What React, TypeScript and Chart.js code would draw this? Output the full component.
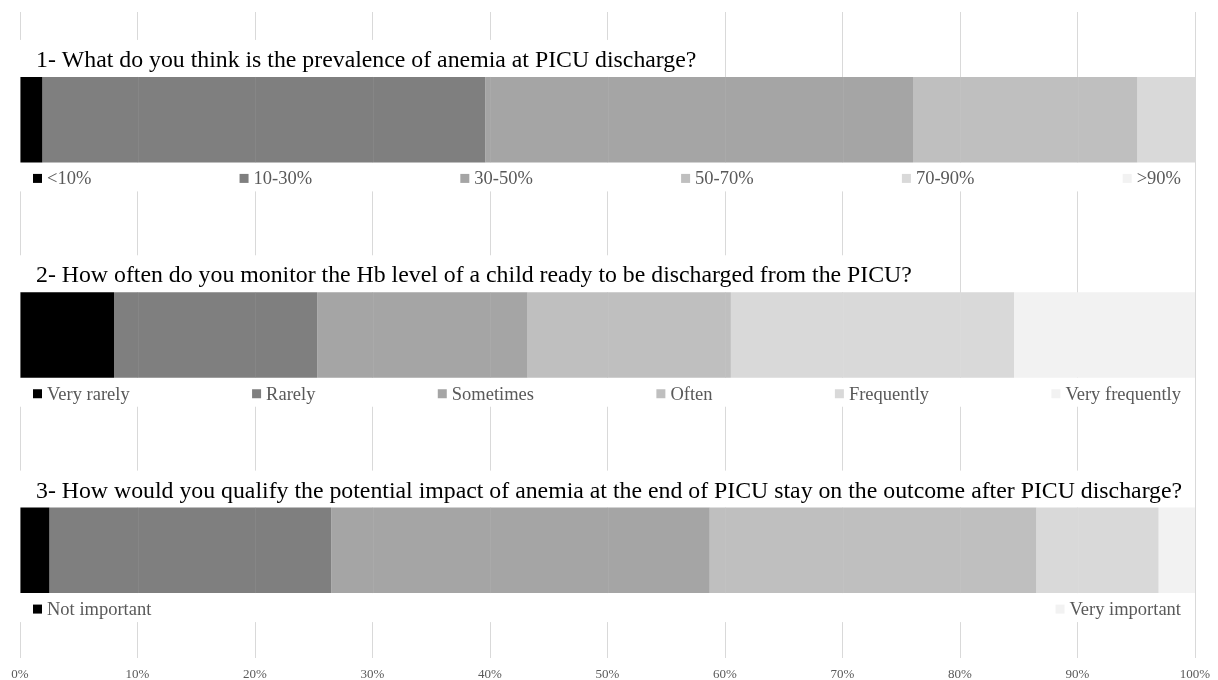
import React, { useEffect, useRef } from "react";
import { Chart, registerables } from "chart.js";

Chart.register(...registerables);

// ---- data ----
const questions = [
  "1- What do you think is the prevalence of anemia at PICU discharge?",
  "2- How often do you monitor the Hb level of a child ready to be discharged from the PICU?",
  "3- How would you qualify the potential impact of anemia at the end of PICU stay on the outcome after PICU discharge?",
];
const q1Labels = ["<10%", "10-30%", "30-50%", "50-70%", "70-90%", ">90%"];
const q2Labels = ["Very rarely", "Rarely", "Sometimes", "Often", "Frequently", "Very frequently"];
const q3Labels = ["Not important", "", "", "", "", "Very important"];
const q1Values = [1.9, 37.7, 36.4, 19.1, 4.9, 0];
const q2Values = [8.0, 17.3, 17.9, 17.3, 24.1, 15.4];
const q3Values = [2.5, 24.0, 32.2, 27.8, 10.4, 3.1];
const xTickLabels = ["0%", "10%", "20%", "30%", "40%", "50%", "60%", "70%", "80%", "90%", "100%"];

// ---- styles ----
const segmentColors = ["#000000", "#7f7f7f", "#a5a5a5", "#bfbfbf", "#d9d9d9", "#f2f2f2"];
const SERIF = "'Liberation Serif', 'Times New Roman', serif";
const TITLE_FONT = `23.8px ${SERIF}`;
const LEGEND_FONT = `18.5px ${SERIF}`;

const rowLabels = [q1Labels, q2Labels, q3Labels];
const rowValues = [q1Values, q2Values, q3Values];

const overlayPlugin = {
  id: "surveyOverlay",
  beforeDatasetsDraw(chart: any) {
    const ctx = chart.ctx;
    const area = chart.chartArea;
    const meta = chart.getDatasetMeta(0);
    ctx.save();
    ctx.fillStyle = "#ffffff";
    ctx.font = TITLE_FONT;
    questions.forEach((q, i) => {
      const el = meta.data[i];
      const { y, height } = el.getProps(["y", "height"], true);
      const top = y - height / 2;
      const bottom = y + height / 2;
      const w = ctx.measureText(q).width;
      ctx.fillRect(area.left - 2, top - 37, 36 - (area.left - 2) + w + 6, 37);
      ctx.fillRect(area.left - 2, bottom, area.right - 3 - (area.left - 2), 29);
    });
    ctx.restore();
  },
  afterDatasetsDraw(chart: any) {
    const ctx = chart.ctx;
    const xScale = chart.scales.x;
    const meta = chart.getDatasetMeta(0);
    ctx.save();
    questions.forEach((q, i) => {
      const el = meta.data[i];
      const { y, height } = el.getProps(["y", "height"], true);
      const top = y - height / 2;
      const bottom = y + height / 2;

      // faint grid lines showing through the bars
      ctx.strokeStyle = "rgba(255,255,255,0.06)";
      ctx.lineWidth = 1;
      for (let v = 10; v < 100; v += 10) {
        const px = Math.round(xScale.getPixelForValue(v)) + 0.5;
        ctx.beginPath();
        ctx.moveTo(px, top);
        ctx.lineTo(px, bottom);
        ctx.stroke();
      }

      // title
      ctx.font = TITLE_FONT;
      ctx.fillStyle = "#000000";
      ctx.textAlign = "left";
      ctx.textBaseline = "alphabetic";
      ctx.fillText(q, 36, top - 10);

      // legend
      ctx.font = LEGEND_FONT;
      const labels = rowLabels[i];
      const items = labels
        .map((label, j) => ({ label, j }))
        .filter((it) => it.label !== "");
      const widths = items.map((it) => 9 + 5 + ctx.measureText(it.label).width);
      const left = 33;
      const right = 1181;
      const total = widths.reduce((a, b) => a + b, 0);
      const gap = items.length > 1 ? (right - left - total) / (items.length - 1) : 0;
      const cy = bottom + 16;
      let x = left;
      items.forEach((it, k) => {
        ctx.fillStyle = segmentColors[it.j];
        ctx.fillRect(x, cy - 4.5, 9, 9);
        ctx.fillStyle = "#595959";
        ctx.fillText(it.label, x + 14, cy + 6);
        x += widths[k] + gap;
      });
    });
    ctx.restore();
  },
};

export default function App() {
  const canvasRef = useRef<HTMLCanvasElement | null>(null);

  useEffect(() => {
    if (!canvasRef.current) return;
    const datasets = segmentColors.map((color, j) => ({
      label: `segment ${j + 1}`,
      data: rowValues.map((row) => row[j]),
      backgroundColor: color,
      borderWidth: 0,
      categoryPercentage: 1,
      barPercentage: 0.397,
    }));
    const chart = new Chart(canvasRef.current, {
      type: "bar",
      data: {
        labels: ["Q1", "Q2", "Q3"],
        datasets,
      },
      options: {
        indexAxis: "y",
        responsive: false,
        animation: false,
        layout: { padding: { left: 20, right: 23, top: 12, bottom: 0 } },
        plugins: {
          legend: { display: false },
          tooltip: { enabled: false },
          title: { display: false },
        },
        scales: {
          x: {
            type: "linear",
            stacked: true,
            min: 0,
            max: 100,
            position: "bottom",
            grid: { color: "#d9d9d9", lineWidth: 1, drawTicks: false },
            border: { display: false },
            ticks: {
              stepSize: 10,
              padding: 9,
              color: "#595959",
              font: { family: SERIF, size: 13 },
              maxRotation: 0,
              autoSkip: false,
              callback: (_v: any, i: number) => xTickLabels[i],
            },
            afterFit: (scale: any) => {
              scale.height = 22;
              scale.paddingLeft = 0;
              scale.paddingRight = 0;
            },
          },
          y: {
            type: "category",
            stacked: true,
            display: false,
          },
        },
      },
      plugins: [overlayPlugin],
    } as any);
    return () => chart.destroy();
  }, []);

  return (
    <div style={{ position: "fixed", left: 0, top: 0, width: 1218, height: 680, background: "#fff" }}>
      <canvas ref={canvasRef} width={1218} height={680} style={{ display: "block" }} />
    </div>
  );
}
